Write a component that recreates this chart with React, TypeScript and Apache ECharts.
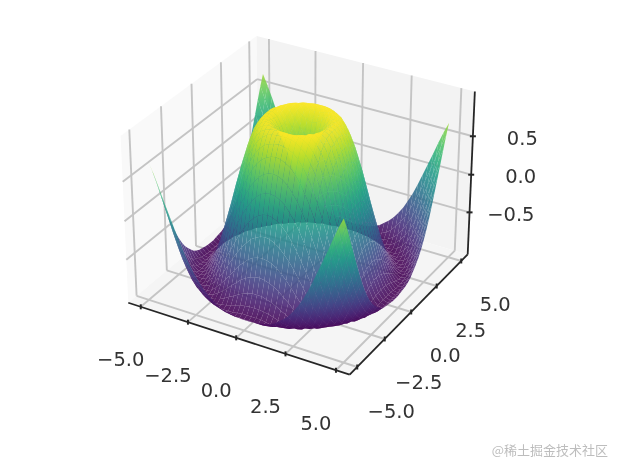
import React, { useEffect, useRef } from "react";
import * as echarts from "echarts";

// Surface heights for one quadrant: row = |x| / 0.25, column = |y| / 0.25
const zQuadrant: number[][] = [
  [0.0, 0.25, 0.48, 0.68, 0.84, 0.95, 1.0, 0.98, 0.91, 0.78, 0.6, 0.38, 0.14, -0.11, -0.35, -0.57, -0.76, -0.9, -0.98, -1.0, -0.96],
  [0.25, 0.35, 0.53, 0.71, 0.86, 0.96, 1.0, 0.98, 0.9, 0.77, 0.59, 0.37, 0.13, -0.12, -0.36, -0.58, -0.76, -0.9, -0.98, -1.0, -0.96],
  [0.48, 0.53, 0.65, 0.78, 0.9, 0.97, 1.0, 0.97, 0.88, 0.74, 0.56, 0.34, 0.1, -0.15, -0.38, -0.6, -0.78, -0.91, -0.98, -1.0, -0.95],
  [0.68, 0.71, 0.78, 0.87, 0.95, 0.99, 0.99, 0.95, 0.85, 0.7, 0.51, 0.29, 0.05, -0.19, -0.42, -0.63, -0.8, -0.92, -0.99, -1.0, -0.94],
  [0.84, 0.86, 0.9, 0.95, 0.99, 1.0, 0.97, 0.9, 0.79, 0.63, 0.43, 0.21, -0.02, -0.26, -0.48, -0.67, -0.83, -0.94, -1.0, -0.99, -0.93],
  [0.95, 0.96, 0.97, 0.99, 1.0, 0.98, 0.93, 0.84, 0.71, 0.54, 0.34, 0.12, -0.11, -0.33, -0.54, -0.73, -0.87, -0.96, -1.0, -0.98, -0.91],
  [1.0, 1.0, 1.0, 0.99, 0.97, 0.93, 0.85, 0.74, 0.6, 0.42, 0.22, 0.01, -0.21, -0.42, -0.62, -0.78, -0.9, -0.98, -1.0, -0.96, -0.88],
  [0.98, 0.98, 0.97, 0.95, 0.9, 0.84, 0.74, 0.62, 0.47, 0.29, 0.09, -0.12, -0.33, -0.52, -0.7, -0.84, -0.94, -0.99, -0.99, -0.94, -0.83],
  [0.91, 0.9, 0.88, 0.85, 0.79, 0.71, 0.6, 0.47, 0.31, 0.13, -0.06, -0.26, -0.45, -0.62, -0.78, -0.9, -0.97, -1.0, -0.98, -0.91, -0.78],
  [0.78, 0.77, 0.74, 0.7, 0.63, 0.54, 0.42, 0.29, 0.13, -0.04, -0.22, -0.4, -0.57, -0.73, -0.85, -0.94, -0.99, -1.0, -0.95, -0.86, -0.72],
  [0.6, 0.59, 0.56, 0.51, 0.43, 0.34, 0.22, 0.09, -0.06, -0.22, -0.38, -0.54, -0.69, -0.82, -0.92, -0.98, -1.0, -0.98, -0.91, -0.79, -0.64],
  [0.38, 0.37, 0.34, 0.29, 0.21, 0.12, 0.01, -0.12, -0.26, -0.4, -0.54, -0.68, -0.8, -0.9, -0.97, -1.0, -0.99, -0.94, -0.85, -0.71, -0.55],
  [0.14, 0.13, 0.1, 0.05, -0.02, -0.11, -0.21, -0.33, -0.45, -0.57, -0.69, -0.8, -0.89, -0.96, -1.0, -1.0, -0.96, -0.88, -0.77, -0.62, -0.44],
  [-0.11, -0.12, -0.15, -0.19, -0.26, -0.33, -0.42, -0.52, -0.62, -0.73, -0.82, -0.9, -0.96, -0.99, -1.0, -0.97, -0.91, -0.8, -0.67, -0.5, -0.32],
  [-0.35, -0.36, -0.38, -0.42, -0.48, -0.54, -0.62, -0.7, -0.78, -0.85, -0.92, -0.97, -1.0, -1.0, -0.97, -0.91, -0.83, -0.7, -0.55, -0.37, -0.18],
  [-0.57, -0.58, -0.6, -0.63, -0.67, -0.73, -0.78, -0.84, -0.9, -0.94, -0.98, -1.0, -1.0, -0.97, -0.91, -0.83, -0.72, -0.58, -0.41, -0.23, -0.03],
  [-0.76, -0.76, -0.78, -0.8, -0.83, -0.87, -0.9, -0.94, -0.97, -0.99, -1.0, -0.99, -0.96, -0.91, -0.83, -0.72, -0.59, -0.43, -0.26, -0.07, 0.12],
  [-0.9, -0.9, -0.91, -0.92, -0.94, -0.96, -0.98, -0.99, -1.0, -1.0, -0.98, -0.94, -0.88, -0.8, -0.7, -0.58, -0.43, -0.27, -0.09, 0.09, 0.27],
  [-0.98, -0.98, -0.98, -0.99, -1.0, -1.0, -1.0, -0.99, -0.98, -0.95, -0.91, -0.85, -0.77, -0.67, -0.55, -0.41, -0.26, -0.09, 0.08, 0.26, 0.43],
  [-1.0, -1.0, -1.0, -1.0, -0.99, -0.98, -0.96, -0.94, -0.91, -0.86, -0.79, -0.71, -0.62, -0.5, -0.37, -0.23, -0.07, 0.09, 0.26, 0.42, 0.58],
  [-0.96, -0.96, -0.95, -0.94, -0.93, -0.91, -0.88, -0.83, -0.78, -0.72, -0.64, -0.55, -0.44, -0.32, -0.18, -0.03, 0.12, 0.27, 0.43, 0.58, 0.71],
];

const xTicks = [-5, -2.5, 0, 2.5, 5];
const yTicks = [-5, -2.5, 0, 2.5, 5];
const zTicks = [-0.5, 0, 0.5];
const xTickLabels = ["\u22125.0", "\u22122.5", "0.0", "2.5", "5.0"];
const yTickLabels = ["\u22125.0", "\u22122.5", "0.0", "2.5", "5.0"];
const zTickLabels = ["\u22120.5", "0.0", "0.5"];
const watermark = "@\u7a00\u571f\u6398\u91d1\u6280\u672f\u793e\u533a";
const viridis: number[][] = [
  [68, 1, 84], [72, 36, 117], [65, 68, 135], [53, 95, 141], [42, 120, 142], [33, 145, 140],
  [34, 168, 132], [68, 191, 112], [122, 209, 81], [189, 223, 38], [253, 231, 37],
];

const XY_LIM = 5.67;
const Z_LIM = 1.07;
const SCALE = 222;
const CX = 301;
const CY = 197.5;
const BOX_XY = 0.5714;
const BOX_Z = 0.4286;
const DIST = 10;
const MESH_STEP = 0.2425;
const CELL_OPACITY = 0.88;
const R = [0.866, 0.5, 0];
const U = [-0.25, 0.433, 0.866];
const E = [0.433, -0.75, 0.5];

type P3 = [number, number, number];
const world = (p: P3): P3 => [(p[0] / XY_LIM) * BOX_XY, (p[1] / XY_LIM) * BOX_XY, (p[2] / Z_LIM) * BOX_Z];
const dot = (a: number[], b: number[]) => a[0] * b[0] + a[1] * b[1] + a[2] * b[2];
const planDepth = (p: P3) => dot(world([p[0], p[1], 0]), E);
const project = (p: P3): [number, number] => {
  const w = world(p);
  const f = 1 / (1 - dot(w, E) / DIST);
  return [CX + SCALE * f * dot(w, R), CY - SCALE * f * dot(w, U)];
};

const viridisAt = (z: number) => {
  const t = Math.max(0, Math.min(1, (z + 1) / 2)) * (viridis.length - 1);
  const i = Math.min(viridis.length - 2, Math.floor(t));
  const a = viridis[i];
  const b = viridis[i + 1];
  const k = t - i;
  return `rgb(${[0, 1, 2].map((c) => Math.round(a[c] + (b[c] - a[c]) * k)).join(",")})`;
};

// Fill of one mesh cell: a gradient along the cell's steepest screen direction, so that
// the colour follows the heights at its four corners instead of one flat mean.
const cellFill = (s: number[][], zs: number[]) => {
  const zm = (zs[0] + zs[1] + zs[2] + zs[3]) / 4;
  const cx = (s[0][0] + s[1][0] + s[2][0] + s[3][0]) / 4;
  const cy = (s[0][1] + s[1][1] + s[2][1] + s[3][1]) / 4;
  const ax = s[2][0] - s[0][0];
  const ay = s[2][1] - s[0][1];
  const bx = s[3][0] - s[1][0];
  const by = s[3][1] - s[1][1];
  const da = zs[2] - zs[0];
  const db = zs[3] - zs[1];
  const det = ax * by - ay * bx;
  if (Math.abs(det) < 1e-3) return viridisAt(zm);
  const gx = (da * by - db * ay) / det;
  const gy = (ax * db - bx * da) / det;
  const g2 = gx * gx + gy * gy;
  if (g2 < 1e-9) return viridisAt(zm);
  const zMin = Math.min(...zs);
  const zMax = Math.max(...zs);
  const t0 = (zMin - zm) / g2;
  const t1 = (zMax - zm) / g2;
  return {
    type: "linear",
    global: true,
    x: cx + gx * t0,
    y: cy + gy * t0,
    x2: cx + gx * t1,
    y2: cy + gy * t1,
    colorStops: [
      { offset: 0, color: viridisAt(zMin) },
      { offset: 0.5, color: viridisAt((zMin + zMax) / 2) },
      { offset: 1, color: viridisAt(zMax) },
    ],
  };
};

const N = 20;
const gridZ = (i: number, j: number) => zQuadrant[Math.abs(i)][Math.abs(j)];
const cells: { pts: P3[]; z: number; d: number }[] = [];
for (let i = -N; i < N; i++) {
  for (let j = -N; j < N; j++) {
    const pts: P3[] = [
      [i * MESH_STEP, j * MESH_STEP, gridZ(i, j)],
      [(i + 1) * MESH_STEP, j * MESH_STEP, gridZ(i + 1, j)],
      [(i + 1) * MESH_STEP, (j + 1) * MESH_STEP, gridZ(i + 1, j + 1)],
      [i * MESH_STEP, (j + 1) * MESH_STEP, gridZ(i, j + 1)],
    ];
    const z = pts.reduce((s, p) => s + p[2], 0) / 4;
    const d = pts.reduce((s, p) => s + planDepth(p), 0) / 4;
    cells.push({ pts, z, d });
  }
}
cells.sort((a, b) => a.d - b.d);

const L = XY_LIM;
const ZL = Z_LIM;
const walls: { pts: P3[]; fill: string }[] = [
  { pts: [[-L, -L, -ZL], [-L, L, -ZL], [-L, L, ZL], [-L, -L, ZL]], fill: "#f9f9f9" },
  { pts: [[-L, L, -ZL], [L, L, -ZL], [L, L, ZL], [-L, L, ZL]], fill: "#f3f3f3" },
  { pts: [[-L, -L, -ZL], [L, -L, -ZL], [L, L, -ZL], [-L, L, -ZL]], fill: "#f5f5f5" },
];

const gridLines: [P3, P3][] = [];
xTicks.forEach((x) => {
  gridLines.push([[x, -L, -ZL], [x, L, -ZL]]);
  gridLines.push([[x, L, -ZL], [x, L, ZL]]);
});
yTicks.forEach((y) => {
  gridLines.push([[-L, y, -ZL], [L, y, -ZL]]);
  gridLines.push([[-L, y, -ZL], [-L, y, ZL]]);
});
zTicks.forEach((z) => {
  gridLines.push([[-L, -L, z], [-L, L, z]]);
  gridLines.push([[-L, L, z], [L, L, z]]);
});

const axisLines: [P3, P3][] = [
  [[-L, -L, -ZL], [L, -L, -ZL]],
  [[L, -L, -ZL], [L, L, -ZL]],
  [[L, L, -ZL], [L, L, ZL]],
];

const tickMarks: { p: P3; dx: number; dy: number }[] = [
  ...xTicks.map((x) => ({ p: [x, -L, -ZL] as P3, dx: 0, dy: 2.5 })),
  ...yTicks.map((y) => ({ p: [L, y, -ZL] as P3, dx: 0, dy: 2.5 })),
  ...zTicks.map((z) => ({ p: [L, L, z] as P3, dx: 3, dy: 0 })),
];

const labels: { p: P3; text: string; dx: number; dy: number; align: string }[] = [
  ...xTicks.map((x, i) => ({ p: [x, -L, -ZL] as P3, text: xTickLabels[i], dx: -20, dy: 53, align: "center" })),
  ...yTicks.map((y, i) => ({ p: [L, y, -ZL] as P3, text: yTickLabels[i], dx: 34, dy: 44, align: "center" })),
  ...zTicks.map((z, i) => ({ p: [L, L, z] as P3, text: zTickLabels[i], dx: 65, dy: 2, align: "right" })),
];

export default function App() {
  const ref = useRef<HTMLDivElement>(null);
  useEffect(() => {
    const chart = echarts.init(ref.current!, undefined, { renderer: "svg" });
    const px = (api: any, p: P3, dx = 0, dy = 0) => api.coord([project(p)[0] + dx, project(p)[1] + dy]);
    const base = { type: "custom", coordinateSystem: "cartesian2d", silent: true, clip: false, progressive: 0, animation: false };
    const one = (list: any[]) => list.map((_, i) => [i, i]);
    const lineStyle = (stroke: string, lineWidth: number) => ({ stroke, lineWidth });
    chart.setOption({
      animation: false,
      backgroundColor: "#ffffff",
      grid: { left: 0, top: 0, right: 0, bottom: 0 },
      xAxis: { type: "value", min: 0, max: 622, show: false },
      yAxis: { type: "value", min: 0, max: 470, inverse: true, show: false },
      series: [
        {
          ...base,
          z: 1,
          data: one(walls),
          renderItem: (params: any, api: any) => ({
            type: "polygon",
            shape: { points: walls[params.dataIndex].pts.map((p) => px(api, p)) },
            style: { fill: walls[params.dataIndex].fill, stroke: "none" },
          }),
        },
        {
          ...base,
          z: 2,
          data: one(gridLines),
          renderItem: (params: any, api: any) => {
            const [a, b] = gridLines[params.dataIndex];
            const s = px(api, a);
            const e = px(api, b);
            return { type: "line", shape: { x1: s[0], y1: s[1], x2: e[0], y2: e[1] }, style: lineStyle("#c4c4c4", 1.9) };
          },
        },
        {
          ...base,
          z: 3,
          data: one(axisLines),
          renderItem: (params: any, api: any) => {
            const [a, b] = axisLines[params.dataIndex];
            const s = px(api, a);
            const e = px(api, b);
            return { type: "line", shape: { x1: s[0], y1: s[1], x2: e[0], y2: e[1] }, style: lineStyle("#262626", 1.8) };
          },
        },
        {
          ...base,
          z: 3,
          data: one(tickMarks),
          renderItem: (params: any, api: any) => {
            const t = tickMarks[params.dataIndex];
            const s = px(api, t.p, -t.dx, -t.dy);
            const e = px(api, t.p, t.dx, t.dy);
            return { type: "line", shape: { x1: s[0], y1: s[1], x2: e[0], y2: e[1] }, style: lineStyle("#262626", 2) };
          },
        },
        {
          ...base,
          z: 4,
          data: cells.map((c) => [c.z, c.d]),
          renderItem: (params: any, api: any) => {
            const c = cells[params.dataIndex];
            const s = c.pts.map((p) => px(api, p));
            return {
              type: "polygon",
              z2: params.dataIndex,
              shape: { points: s },
              style: { fill: cellFill(s, c.pts.map((p) => p[2])), stroke: "none", opacity: CELL_OPACITY },
            };
          },
        },
        {
          ...base,
          z: 5,
          data: one(labels),
          renderItem: (params: any, api: any) => {
            const l = labels[params.dataIndex];
            const pos = px(api, l.p, l.dx, l.dy);
            return {
              type: "text",
              x: pos[0],
              y: pos[1],
              style: {
                text: l.text,
                fill: "#333333",
                font: '19.5px "DejaVu Sans"',
                textAlign: l.align,
                textVerticalAlign: "middle",
              },
            };
          },
        },
      ],
      graphic: [
        {
          type: "text",
          x: 608,
          y: 449,
          style: {
            text: watermark,
            fill: "#bdbdbd",
            font: '13px "Noto Sans CJK SC"',
            textAlign: "right",
            textVerticalAlign: "middle",
          },
        },
      ],
    });
    return () => chart.dispose();
  }, []);
  return (
    <div
      ref={ref}
      style={{ position: "absolute", left: 0, top: 0, width: 622, height: 470, filter: "blur(0.7px)" }}
    />
  );
}
